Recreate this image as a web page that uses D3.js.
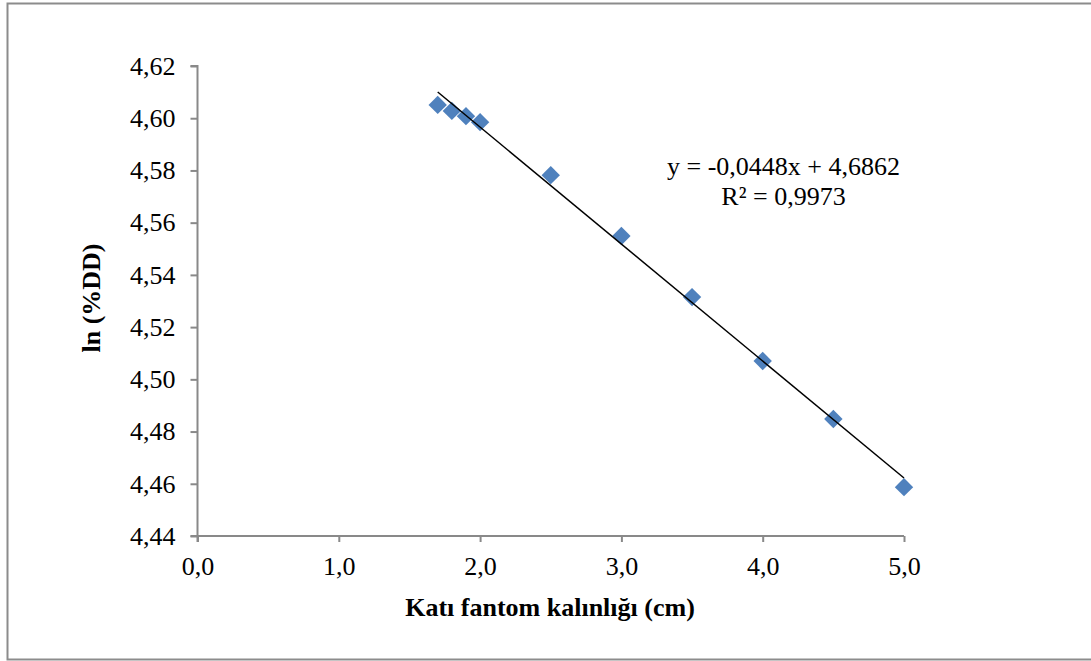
<!DOCTYPE html>
<html>
<head>
<meta charset="utf-8">
<script src="https://cdn.jsdelivr.net/npm/d3@7"></script>
<style>
  body { margin: 0; background: #fff; }
  text { font-family: "Liberation Serif", "Times New Roman", serif; fill: #000; }
</style>
</head>
<body>
<div id="chart"></div>
<script>
// data
const thickness = [1.7, 1.8, 1.9, 2.0, 2.5, 3.0, 3.5, 4.0, 4.5, 5.0];
const lnDD = [4.6051, 4.6028, 4.6008, 4.5985, 4.5782, 4.5549, 4.5315, 4.5070, 4.4848, 4.4587];
const xTicks = [0, 1, 2, 3, 4, 5];
const yTicks = [4.44, 4.46, 4.48, 4.50, 4.52, 4.54, 4.56, 4.58, 4.60, 4.62];
const slope = -0.0448, intercept = 4.6862;
const eqText = "y = -0,0448x + 4,6862";
const r2Text = "R² = 0,9973";

const width = 1091, height = 661;
const margin = {top: 66, left: 197.5, right: 187, bottom: 125};
const plotW = width - margin.left - margin.right;
const plotH = height - margin.top - margin.bottom;
const fs = "26px";

const svg = d3.select("#chart").append("svg")
  .attr("width", width).attr("height", height);

// outer frame (right edge runs off the image)
svg.append("path")
  .attr("d", "M1100,3.5 H7.5 V659.5 H1100")
  .attr("fill", "none").attr("stroke", "#8c8c8c").attr("stroke-width", 2);

const g = svg.append("g").attr("transform", "translate(" + [margin.left, margin.top] + ")");

const x = d3.scaleLinear().domain([0, 5]).range([0, plotW]);
const y = d3.scaleLinear().domain([4.44, 4.62]).range([plotH, 0]);

const comma = f => v => d3.format(f)(v).replace(".", ",");

const yAxis = g.append("g")
  .call(d3.axisLeft(y).tickValues(yTicks).tickSize(7).tickPadding(15).tickFormat(comma(".2f")));
const xAxis = g.append("g").attr("transform", "translate(0," + plotH + ")")
  .call(d3.axisBottom(x).tickValues(xTicks).tickSize(6).tickPadding(15).tickFormat(comma(".1f")));

[xAxis, yAxis].forEach(a => {
  a.attr("font-family", null).attr("font-size", null);
  a.selectAll("path, line").attr("stroke", "#898989").attr("stroke-width", 2);
  a.selectAll("text").style("font-size", fs);
});
yAxis.select(".domain").attr("d", "M-7," + plotH + "H0V0H-7");
xAxis.select(".domain").attr("d", "M0,6V0H" + plotW);

// markers
const data = thickness.map((t, i) => ({t: t, v: lnDD[i]}));
g.selectAll(".pt").data(data).enter().append("rect")
  .attr("class", "pt")
  .attr("x", -6.5).attr("y", -6.5).attr("width", 13).attr("height", 13)
  .attr("transform", d => "translate(" + [x(d.t), y(d.v)] + ") rotate(45)")
  .attr("fill", "#4f81bd");

// linear trendline
const tr = d3.extent(thickness);
g.append("path")
  .attr("d", d3.line().x(d => x(d)).y(d => y(slope * d + intercept))(tr))
  .attr("stroke", "#000").attr("stroke-width", 1.5).attr("fill", "none");

g.append("text").attr("x", 586).attr("y", 109).attr("text-anchor", "middle")
  .style("font-size", fs).text(eqText);
g.append("text").attr("x", 586).attr("y", 139).attr("text-anchor", "middle")
  .style("font-size", fs).text(r2Text);

// axis titles
svg.append("text").attr("x", 550).attr("y", 616)
  .attr("text-anchor", "middle").style("font-size", fs).style("font-weight", "bold")
  .text("Katı fantom kalınlığı (cm)");
svg.append("text").attr("transform", "translate(100," + (margin.top + plotH / 2 - 3) + ") rotate(-90)")
  .attr("text-anchor", "middle").style("font-size", fs).style("font-weight", "bold")
  .text("ln (%DD)");
</script>
</body>
</html>
